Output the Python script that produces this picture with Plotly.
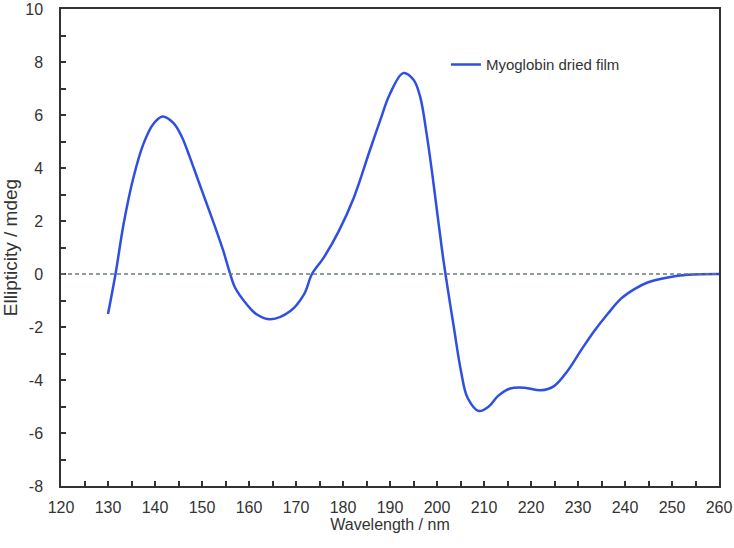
import plotly.graph_objects as go

wavelength = [130.0, 131.6, 133.3, 135.4, 137.5, 139.6, 141.6, 143.9, 145.7, 147.4,
              149.2, 151.0, 152.8, 154.5, 155.8, 157.0, 159.5, 161.6, 164.6, 168.8,
              171.7, 173.4, 175.9, 179.1, 182.3, 185.7, 187.9, 190.0, 192.8, 195.0,
              196.4, 197.8, 198.9, 199.9, 201.0, 201.8, 203.6, 205.1, 206.5, 208.9,
              211.0, 213.0, 215.6, 218.6, 222.1, 224.9, 227.8, 230.6, 233.5, 236.3,
              239.1, 242.0, 244.8, 249.1, 253.4, 260.0]
ellipticity = [-1.51, 0.0, 1.87, 3.63, 4.89, 5.65, 5.94, 5.70, 5.18, 4.41,
               3.53, 2.65, 1.77, 0.89, 0.12, -0.50, -1.14, -1.52, -1.71, -1.40,
               -0.77, 0.0, 0.62, 1.62, 2.88, 4.66, 5.79, 6.80, 7.58, 7.33,
               6.70, 5.28, 3.90, 2.52, 1.00, 0.0, -2.03, -3.66, -4.67, -5.17,
               -5.00, -4.60, -4.32, -4.29, -4.39, -4.23, -3.65, -2.89, -2.14, -1.51,
               -0.94, -0.57, -0.32, -0.13, -0.03, 0.0]

y_tick_values = [-8, -6, -4, -2, 0, 2, 4, 6, 8, 10]
y_tick_labels = ["-8", "-6", "-4", "-2", "0", "2", "4", "6", "8", "10"]

series_name = "Myoglobin dried film"
x_title = "Wavelength / nm"
y_title = "Ellipticity / mdeg"

FONT = "Liberation Sans, Arial, sans-serif"
INK = "#333333"

fig = go.Figure()
fig.add_trace(go.Scatter(
    x=wavelength, y=ellipticity, mode="lines", name=series_name,
    line=dict(color="#2f4fe3", width=2.5, shape="spline", smoothing=1.0),
))
fig.add_hline(y=0, line=dict(color="#6b7b7b", width=1.5, dash="4px,3px"))

axis_common = dict(
    showline=True, linecolor=INK, linewidth=1.5, mirror=True,
    ticks="inside", ticklen=5, tickcolor=INK, tickwidth=1.5,
    showgrid=False, zeroline=False, automargin=False,
    tickfont=dict(family=FONT, size=16, color=INK),
)

fig.update_xaxes(range=[120, 260], dtick=10, tick0=120,
                 title=dict(text=x_title, standoff=2, font=dict(family=FONT, size=16, color=INK)),
                 ticklabelstandoff=6,
                 minor=dict(dtick=5, ticks="inside", ticklen=5, tickcolor=INK, tickwidth=1.5),
                 **axis_common)
fig.update_yaxes(range=[-8, 10], tickmode="array", tickvals=y_tick_values, ticktext=y_tick_labels,
                 title=dict(text=y_title, standoff=13, font=dict(family=FONT, size=19, color=INK)),
                 ticklabelstandoff=13,
                 minor=dict(dtick=1, tick0=-8, ticks="inside", ticklen=5, tickcolor=INK, tickwidth=1.5),
                 **axis_common)

fig.update_layout(
    width=734, height=548,
    margin=dict(l=61, r=15, t=9, b=62),
    plot_bgcolor="white", paper_bgcolor="white",
    showlegend=True,
    legend=dict(x=0.585, y=0.883, xanchor="left", yanchor="middle",
                bgcolor="rgba(0,0,0,0)",
                font=dict(family=FONT, size=15, color=INK)),
)

fig.write_html("out.html",
               config={"displayModeBar": False},
               post_script="document.body.style.margin='0';document.body.style.overflow='hidden';")
